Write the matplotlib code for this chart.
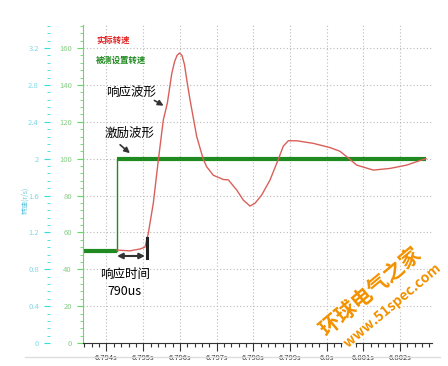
import matplotlib
matplotlib.use("Agg")
import matplotlib.pyplot as plt
from matplotlib.ticker import MultipleLocator, FixedLocator
from matplotlib.lines import Line2D
import matplotlib.patheffects as pe

plt.rcParams['font.family'] = ['Noto Sans CJK SC', 'DejaVu Sans']

# 实际转速 (响应波形) - 读图估计
resp_t = [6.794286, 6.794640, 6.794913, 6.795049, 6.795139, 6.795275, 6.795411,
          6.795548, 6.795657, 6.795777, 6.795853, 6.795921, 6.795989, 6.796057,
          6.796125, 6.796193, 6.796275, 6.796458, 6.796638, 6.796730, 6.796910,
          6.797183, 6.797319, 6.797548, 6.797728, 6.797910, 6.798046, 6.798229,
          6.798455, 6.798681, 6.798817, 6.798954, 6.799183, 6.799635, 6.800090,
          6.800362, 6.800635, 6.800817, 6.801270, 6.801725, 6.802180, 6.802542,
          6.802706]
resp_v = [50.4, 50.0, 51.0, 52.0, 59.5, 75.8, 99.0,
          121.0, 130.0, 146.0, 152.5, 156.0, 157.3, 156.0,
          151.0, 142.0, 132.0, 112.0, 99.6, 95.6, 91.0,
          88.7, 88.5, 83.0, 77.5, 74.3, 75.8, 80.3,
          88.4, 99.6, 106.8, 109.7, 109.7, 108.3, 106.0,
          104.0, 99.6, 96.5, 93.8, 94.7, 96.5, 99.0,
          100.0]

# 被测设置转速 (激励波形)
step_t = [6.79336, 6.794286, 6.80271]
step_lo = 50
step_hi = 100

x_ticks = [6.794, 6.795, 6.796, 6.797, 6.798, 6.799, 6.800, 6.801, 6.802]
x_labels = ["6.794s", "6.795s", "6.796s", "6.797s", "6.798s", "6.799s", "6.8s", "6.801s", "6.802s"]
y_ticks = [0, 20, 40, 60, 80, 100, 120, 140, 160]
y2_ticks = [0, 0.4, 0.8, 1.2, 1.6, 2.0, 2.4, 2.8, 3.2]
y2_labels = ["0", "0.4", "0.8", "1.2", "1.6", "2", "2.4", "2.8", "3.2"]

fig = plt.figure(figsize=(4.48, 3.66), dpi=100)
rect = [83 / 448, 1 - 343 / 366, 349 / 448, 318 / 366]
ax = fig.add_axes(rect)

ax.set_xlim(6.7933597, 6.802869)
ax.set_ylim(0, 172.5)

# 网格
ax.grid(True, which='major', linestyle=(0, (1, 2)), color='#bbbbbb', lw=0.8)

# 激励波形
ax.plot([step_t[0], step_t[1]], [step_lo, step_lo], color='#1f8a1f', lw=3, solid_capstyle='butt')
ax.plot([step_t[1], step_t[1]], [step_lo, step_hi], color='#1f8a1f', lw=1)
ax.plot([step_t[1], step_t[2]], [step_hi, step_hi], color='#1f8a1f', lw=3, solid_capstyle='butt')

# 响应波形
ax.plot(resp_t, resp_v, color='#d9605a', lw=1)

# 坐标轴
for s in ['top', 'right']:
    ax.spines[s].set_visible(False)
ax.spines['left'].set_color('#66d866')
ax.spines['bottom'].set_color('#333333')
ax.set_xticks(x_ticks)
ax.set_xticklabels(x_labels, fontsize=5.5, color='#333333')
ax.xaxis.set_minor_locator(MultipleLocator(0.0002))
ax.tick_params(axis='x', which='major', length=6, width=0.8, color='#333333', pad=2)
ax.tick_params(axis='x', which='minor', length=3, width=0.8, color='#333333')
ax.set_yticks(y_ticks)
ax.set_yticklabels([str(v) for v in y_ticks], fontsize=5.5, color='#88cc88')
ax.yaxis.set_minor_locator(MultipleLocator(4))
ax.tick_params(axis='y', which='major', length=4, color='#66d866', pad=4)
ax.tick_params(axis='y', which='minor', length=2, color='#66d866')

# 外侧青色坐标轴
ax2 = fig.add_axes(rect, frameon=False)
ax2.patch.set_visible(False)
ax2.set_ylim(0, 3.45)
ax2.set_xticks([])
ax2.spines['left'].set_visible(True)
ax2.spines['left'].set_position(('axes', -33 / 349))
ax2.spines['left'].set_color('#33dddd')
for s in ['top', 'right', 'bottom']:
    ax2.spines[s].set_visible(False)
ax2.yaxis.set_major_locator(FixedLocator(y2_ticks))
ax2.set_yticklabels(y2_labels, fontsize=5.5, color='#80d8e8')
ax2.yaxis.set_minor_locator(MultipleLocator(0.08))
ax2.tick_params(axis='y', which='major', length=4, color='#33dddd', pad=4)
ax2.tick_params(axis='y', which='minor', length=2, color='#33dddd')
fig.text(25 / 448, 1 - 200 / 366, "转速(r/s)", rotation=90, fontsize=5, color='#60c8e0',
         ha='center', va='center')

# 图例文字
ax.text(6.79372, 164, "实际转速", fontsize=6, color='#e02020', fontweight='bold', va='center')
ax.text(6.79372, 153.5, "被测设置转速", fontsize=6, color='#1f8a1f', fontweight='bold', va='center')

# 标注
ax.text(6.794668, 136.1, "响应波形", fontsize=9, ha='center', va='center')
ax.annotate('', xy=(6.795621, 128), xytext=(6.79524, 132.3),
            arrowprops=dict(arrowstyle='-|>', color='#333333', lw=1.2, mutation_scale=8))
ax.text(6.794640, 113.9, "激励波形", fontsize=9, ha='center', va='center')
ax.annotate('', xy=(6.794695, 102), xytext=(6.794313, 108.5),
            arrowprops=dict(arrowstyle='-|>', color='#333333', lw=1.2, mutation_scale=8))
ax.annotate('', xy=(6.794286, 47.2), xytext=(6.795049, 47.2),
            arrowprops=dict(arrowstyle='<|-|>', color='#333333', lw=1.5, mutation_scale=8,
                            shrinkA=0, shrinkB=0))
ax.plot([6.795104, 6.795104], [46, 57], color='#222222', lw=2.2)
ax.text(6.794504, 37.4, "响应时间", fontsize=9, ha='center', va='center')
ax.text(6.794504, 28.2, "790us", fontsize=9, ha='center', va='center')

# 底部分隔线
fig.add_artist(Line2D([25 / 448, 440 / 448], [1 - 357 / 366, 1 - 357 / 366],
                      color='#dddddd', lw=1))

# 水印
wm = [pe.withStroke(linewidth=2, foreground='white')]
fig.text(370 / 448, 1 - 292 / 366, "环球电气之家", fontsize=15, fontweight='bold',
         color='#f39200', rotation=40, ha='center', va='center', path_effects=wm)
fig.text(392 / 448, 1 - 306 / 366, "www.51spec.com", fontsize=10, fontweight='bold',
         color='#f39200', rotation=40, ha='center', va='center', path_effects=wm)

fig.savefig("out.png", dpi=100)
